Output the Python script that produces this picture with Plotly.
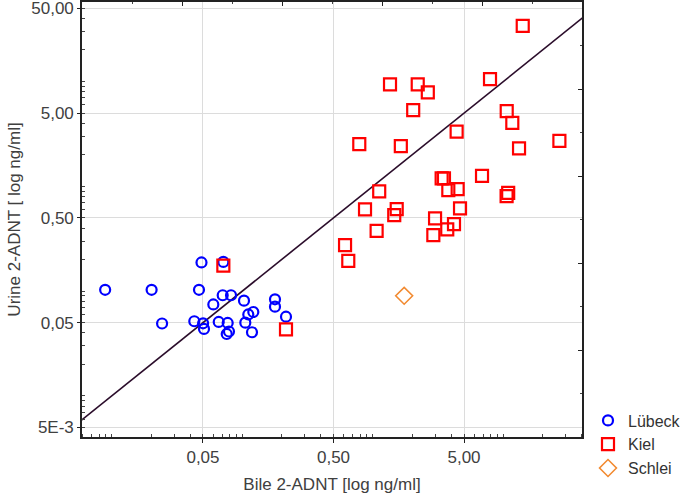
import plotly.graph_objects as go

# Lübeck (blue circles)
lubeck_bile = [0.0089, 0.0202, 0.0243, 0.0487, 0.0466, 0.0429, 0.0501, 0.0509, 0.0600, 0.0660,
               0.0716, 0.0708, 0.0820, 0.0773, 0.0791, 0.0760, 0.1031, 0.1055, 0.1112, 0.1215,
               0.1187, 0.1781, 0.1781, 0.2163]
lubeck_urine = [0.103, 0.103, 0.0491, 0.1877, 0.103, 0.0516, 0.0493, 0.0436, 0.0746, 0.0508,
                0.190, 0.0913, 0.0913, 0.0497, 0.0412, 0.0390, 0.0811, 0.050, 0.0599, 0.0632,
                0.0405, 0.0836, 0.0711, 0.0570]

# Kiel (red squares)
kiel_bile = [14.09, 1.355, 2.21, 2.64, 2.04, 7.91, 10.62, 11.72, 4.39, 0.788,
             1.64, 13.2, 26.9, 3.37, 3.51, 6.87, 3.79, 4.47, 1.12, 0.872,
             1.525, 1.46, 4.66, 10.9, 10.6, 3.00, 4.19, 3.72, 2.91, 1.07,
             0.613, 0.649, 0.0716, 0.2163]
kiel_urine = [34.0, 9.39, 9.39, 7.88, 5.34, 10.55, 5.22, 4.04, 3.32, 2.53,
              2.42, 2.30, 2.72, 1.19, 1.19, 1.26, 0.921, 0.941, 0.895, 0.603,
              0.607, 0.532, 0.616, 0.868, 0.807, 0.494, 0.436, 0.388, 0.343, 0.376,
              0.275, 0.194, 0.175, 0.0432]

# Schlei (orange diamond)
schlei_bile = [1.74]
schlei_urine = [0.0903]

x_tickvals = [0.05, 0.5, 5]
x_ticktext = ["0,05", "0,50", "5,00"]
y_tickvals = [0.005, 0.05, 0.5, 5, 50]
y_ticktext = ["5E-3", "0,05", "0,50", "5,00", "50,00"]

x_range = [-2.228, 1.603]
y_range = [-2.392, 1.759]

minor_vals = [d * 10 ** e for e in range(-4, 3) for d in range(1, 10)]

fig = go.Figure()

# y = x reference line across the plot
lo = 10 ** min(x_range[0], y_range[0])
hi = 10 ** max(x_range[1], y_range[1])
fig.add_trace(go.Scatter(x=[lo, hi], y=[lo, hi], mode="lines",
                         line=dict(color="#2b0d2b", width=1.6),
                         showlegend=False, hoverinfo="skip"))

fig.add_trace(go.Scatter(x=lubeck_bile, y=lubeck_urine, mode="markers", name="Lübeck",
                         marker=dict(symbol="circle-open", size=10, color="#0000ff",
                                     line=dict(width=2.2))))
fig.add_trace(go.Scatter(x=kiel_bile, y=kiel_urine, mode="markers", name="Kiel",
                         marker=dict(symbol="square-open", size=12, color="#ff0000",
                                     line=dict(width=2.2))))
fig.add_trace(go.Scatter(x=schlei_bile, y=schlei_urine, mode="markers", name="Schlei",
                         marker=dict(symbol="diamond-open", size=13, color="#f28a30",
                                     line=dict(width=1.6))))

# dummy trace so the top/right tick axes are drawn
fig.add_trace(go.Scatter(x=[None], y=[None], xaxis="x2", yaxis="y2",
                         showlegend=False, hoverinfo="skip"))

axis_font = dict(family="Liberation Sans, Arial", size=17, color="#404040")

fig.update_layout(
    width=685, height=497,
    margin=dict(l=82, r=103, t=2, b=60, autoexpand=False),
    plot_bgcolor="white", paper_bgcolor="white",
    font=axis_font,
    xaxis=dict(type="log", range=x_range, tickvals=x_tickvals, ticktext=x_ticktext,
               showgrid=True, gridcolor="#dcdcdc", gridwidth=1.3,
               showline=True, linecolor="#222222", linewidth=1.6, mirror=True,
               ticks="outside", ticklen=4, tickcolor="#222222",
               minor=dict(tickvals=minor_vals, ticks="inside", ticklen=3,
                          tickcolor="#444444", showgrid=False),
               zeroline=False, automargin=False, ticklabeloverflow="allow",
               title=dict(text="Bile 2-ADNT [log ng/ml]", font=axis_font, standoff=12),
               tickfont=axis_font),
    yaxis=dict(type="log", range=y_range, tickvals=y_tickvals, ticktext=y_ticktext,
               showgrid=True, gridcolor="#dcdcdc", gridwidth=1.3,
               showline=True, linecolor="#222222", linewidth=1.6, mirror=True,
               ticks="outside", ticklen=3, tickcolor="#222222",
               minor=dict(tickvals=minor_vals, ticks="inside", ticklen=3,
                          tickcolor="#444444", showgrid=False),
               zeroline=False, automargin=False, ticklabeloverflow="allow",
               title=dict(text="Urine 2-ADNT [ log ng/ml]", font=axis_font, standoff=6),
               tickfont=axis_font),
    xaxis2=dict(overlaying="x", side="top", anchor="y2", range=[0, 10],
                tickvals=[2, 4, 6, 8], ticks="inside", ticklen=4, tickcolor="#222222",
                minor=dict(tickvals=[1, 3, 5, 7, 9], ticks="inside", ticklen=2,
                           tickcolor="#444444"),
                showticklabels=False, showgrid=False, zeroline=False, showline=False),
    yaxis2=dict(overlaying="y", side="right", anchor="x2", range=[0, 10],
                tickvals=[2, 4, 6, 8], ticks="inside", ticklen=4, tickcolor="#222222",
                minor=dict(tickvals=[1, 3, 5, 7, 9], ticks="inside", ticklen=2,
                           tickcolor="#444444"),
                showticklabels=False, showgrid=False, zeroline=False, showline=False),
    legend=dict(x=1.012, y=0.077, xanchor="left", yanchor="top",
                font=dict(family="Liberation Sans, Arial", size=16, color="#333333"),
                bgcolor="rgba(0,0,0,0)", itemwidth=30, tracegroupgap=0),
)

# drop the default page margin so the figure sits at the window corner
fig.write_html("out.html", config={"displayModeBar": False},
               post_script="document.body.style.margin = '0';")
